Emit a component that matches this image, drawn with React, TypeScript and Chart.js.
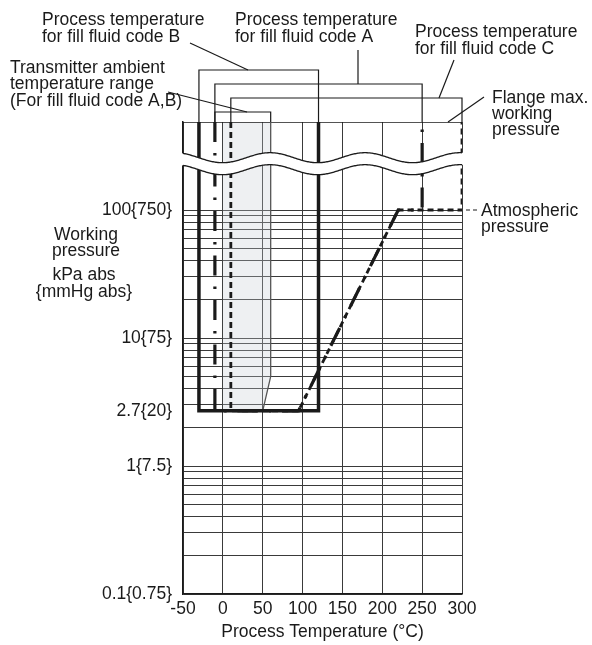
import React, { useEffect, useRef } from 'react';
import { Chart, registerables } from 'chart.js';

Chart.register(...registerables);

// ---- data ----
const FLANGE_MAX = 487; // nominal pressure used to place the "flange max." line above the axis break
const BREAK_VALUE = 230; // nominal pressure where the axis break is drawn

const X_MIN = -50;
const X_MAX = 300;
const X_STEP = 50;
const Y_MIN = 0.1;

const Y_LABEL_VALUES = [0.1, 1, 2.7, 10, 100];
const Y_LABELS = ['0.1{0.75}', '1{7.5}', '2.7{20}', '10{75}', '100{750}'];
const Y_GRID_VALUES = [
  0.1, 0.2, 0.3, 0.4, 0.5, 0.6, 0.7, 0.8, 0.9,
  1, 2, 3, 4, 5, 6, 7, 8, 9,
  10, 20, 30, 40, 50, 60, 70, 80, 90,
  100,
];

const MIN_PRESSURE = 2.7;
const ATMOSPHERIC = 100;

// Process temperature for fill fluid code B (solid)
const CODE_B_X = [-30, -30, 120, 120];
const CODE_B_Y = [FLANGE_MAX, MIN_PRESSURE, MIN_PRESSURE, FLANGE_MAX];
// Process temperature for fill fluid code A (dash-dot)
const CODE_A_X = [-10, -10, 95, 220, 250, 250];
const CODE_A_Y = [FLANGE_MAX, MIN_PRESSURE, MIN_PRESSURE, ATMOSPHERIC, ATMOSPHERIC, FLANGE_MAX];
// Process temperature for fill fluid code C (dashed)
const CODE_C_X = [10, 10, 95, 220, 300, 300];
const CODE_C_Y = [FLANGE_MAX, MIN_PRESSURE, MIN_PRESSURE, ATMOSPHERIC, ATMOSPHERIC, FLANGE_MAX];
// Transmitter ambient temperature range (shaded)
const AMBIENT_SHADE_X = [0, 60, 60, 50, 0];
const AMBIENT_SHADE_Y = [FLANGE_MAX, FLANGE_MAX, 5, MIN_PRESSURE, MIN_PRESSURE];
const AMBIENT_EDGE_X = [60, 60, 50];
const AMBIENT_EDGE_Y = [FLANGE_MAX, 5, MIN_PRESSURE];
// Flange max. working pressure
const FLANGE_X = [X_MIN, X_MAX];
const FLANGE_Y = [FLANGE_MAX, FLANGE_MAX];

// brackets above the plot (temperature ranges)
const BRACKET_B = [-30, 120];
const BRACKET_A = [-10, 250];
const BRACKET_C = [10, 300];
const BRACKET_AMBIENT = [-10, 60];

const FONT_FAMILY = '"Liberation Sans", Arial, Helvetica, sans-serif';
const FONT_SIZE = 17.5;
const INK = '#1a1a1a';
const GRID = '#3a3a3a';

const pts = (xs: number[], ys: number[]) => xs.map((x, i) => ({ x, y: ys[i] }));

const breakPlugin = {
  id: 'axisBreak',
  afterDatasetsDraw(chart: any) {
    const { ctx, chartArea, scales } = chart;
    const yc = scales.y.getPixelForValue(BREAK_VALUE);
    const amp = 5;
    const period = 95;
    const phase = chartArea.left - 8;
    const half = 6;
    const f = (x: number) => -amp * Math.cos((2 * Math.PI * (x - phase)) / period);
    const x0 = chartArea.left - 3;
    const x1 = chartArea.right + 3;
    ctx.save();
    ctx.beginPath();
    for (let x = x0; x <= x1; x += 1) {
      const y = yc - half + f(x);
      if (x === x0) ctx.moveTo(x, y);
      else ctx.lineTo(x, y);
    }
    for (let x = x1; x >= x0; x -= 1) ctx.lineTo(x, yc + half + f(x));
    ctx.closePath();
    ctx.fillStyle = '#ffffff';
    ctx.fill();
    ctx.strokeStyle = INK;
    ctx.lineWidth = 1.3;
    for (const off of [-half, half]) {
      ctx.beginPath();
      for (let x = chartArea.left; x <= chartArea.right; x += 1) {
        const y = yc + off + f(x);
        if (x === chartArea.left) ctx.moveTo(x, y);
        else ctx.lineTo(x, y);
      }
      ctx.stroke();
    }
    ctx.restore();
  },
};

const annotationPlugin = {
  id: 'callouts',
  afterDraw(chart: any) {
    const { ctx, chartArea, scales } = chart;
    const xs = scales.x;
    const ys = scales.y;
    const top = chartArea.top;
    ctx.save();
    ctx.strokeStyle = INK;
    ctx.lineWidth = 1.2;
    const bracket = (range: number[], rise: number) => {
      const a = xs.getPixelForValue(range[0]);
      const b = xs.getPixelForValue(range[1]);
      ctx.beginPath();
      ctx.moveTo(a, top);
      ctx.lineTo(a, top - rise);
      ctx.lineTo(b, top - rise);
      ctx.lineTo(b, top);
      ctx.stroke();
    };
    bracket(BRACKET_B, 52);
    bracket(BRACKET_A, 38);
    bracket(BRACKET_C, 24);
    bracket(BRACKET_AMBIENT, 10);

    const line = (x1: number, y1: number, x2: number, y2: number) => {
      ctx.beginPath();
      ctx.moveTo(x1, y1);
      ctx.lineTo(x2, y2);
      ctx.stroke();
    };
    // leaders
    line(190, 43, 248, top - 52);
    line(358, 50, 358, top - 38);
    line(454, 60, 439, top - 24);
    line(168, 92, 247, top - 10);
    line(484, 97, 448, top);
    const yAtm = ys.getPixelForValue(ATMOSPHERIC);
    ctx.setLineDash([4, 3]);
    ctx.lineWidth = 1;
    line(chartArea.right + 4, yAtm, chartArea.right + 16, yAtm);
    ctx.setLineDash([]);

    ctx.fillStyle = INK;
    ctx.font = `${FONT_SIZE}px ${FONT_FAMILY}`;
    ctx.textBaseline = 'alphabetic';
    ctx.textAlign = 'left';
    const text = (s: string, x: number, y: number) => ctx.fillText(s, x, y);
    text('Process temperature', 42, 25);
    text('for fill fluid code B', 42, 42);
    text('Process temperature', 235, 25);
    text('for fill fluid code A', 235, 42);
    text('Process temperature', 415, 37);
    text('for fill fluid code C', 415, 54);
    text('Transmitter ambient', 10, 73);
    text('temperature range', 10, 89);
    text('(For fill fluid code A,B)', 10, 106);
    text('Flange max.', 492, 103);
    text('working', 492, 119);
    text('pressure', 492, 135);
    text('Atmospheric', 481, 216);
    text('pressure', 481, 232);
    ctx.textAlign = 'center';
    text('Working', 86, 240);
    text('pressure', 86, 256);
    text('kPa abs', 84, 280);
    text('{mmHg abs}', 84, 297);
    ctx.restore();
  },
};

export default function App() {
  const canvasRef = useRef<HTMLCanvasElement | null>(null);

  useEffect(() => {
    const canvas = canvasRef.current;
    if (!canvas) return;
    const lineDs = (label: string, data: any[], extra: any) => ({
      label,
      data,
      showLine: true,
      pointRadius: 0,
      pointHoverRadius: 0,
      tension: 0,
      fill: false,
      borderColor: INK,
      borderCapStyle: 'butt',
      borderJoinStyle: 'miter',
      ...extra,
    });
    const chart = new Chart(canvas, {
      type: 'line',
      data: {
        datasets: [
          lineDs('Code B', pts(CODE_B_X, CODE_B_Y), { borderWidth: 3.5 }),
          lineDs('Code A', pts(CODE_A_X, CODE_A_Y), { borderWidth: 3.2, borderDash: [20, 11, 2.5, 11] }),
          lineDs('Code C', pts(CODE_C_X, CODE_C_Y), { borderWidth: 2.8, borderDash: [6, 4] }),
          lineDs('Ambient edge', pts(AMBIENT_EDGE_X, AMBIENT_EDGE_Y), { borderWidth: 1.3, borderColor: '#555' }),
          lineDs('Flange max', pts(FLANGE_X, FLANGE_Y), { borderWidth: 1.6 }),
          lineDs('Ambient range', pts(AMBIENT_SHADE_X, AMBIENT_SHADE_Y), {
            borderWidth: 0,
            borderColor: 'rgba(0,0,0,0)',
            backgroundColor: 'rgba(200,205,212,0.3)',
            fill: 'shape',
          }),
        ],
      },
      options: {
        animation: false,
        responsive: false,
        maintainAspectRatio: false,
        devicePixelRatio: 1,
        parsing: false,
        normalized: true,
        events: [],
        layout: { padding: { left: 0, right: 130, top: 122, bottom: 0 } },
        plugins: {
          legend: { display: false },
          tooltip: { enabled: false },
          title: { display: false },
        },
        scales: {
          x: {
            type: 'linear',
            min: X_MIN,
            max: X_MAX,
            afterFit: (scale: any) => {
              scale.height = 51;
            },
            ticks: {
              stepSize: X_STEP,
              padding: 5,
              color: INK,
              font: { family: FONT_FAMILY, size: FONT_SIZE },
              callback: (v: any) => String(v),
            },
            grid: { color: GRID, lineWidth: 1, drawTicks: false },
            border: { display: true, color: INK, width: 1.5 },
            title: {
              display: true,
              text: 'Process Temperature (°C)',
              color: INK,
              font: { family: FONT_FAMILY, size: FONT_SIZE },
              padding: { top: 0, bottom: 2.5 },
            },
          },
          y: {
            type: 'logarithmic',
            min: Y_MIN,
            max: FLANGE_MAX,
            bounds: 'data',
            afterFit: (scale: any) => {
              scale.width = 183;
            },
            afterBuildTicks: (scale: any) => {
              const vals = [...Y_GRID_VALUES, MIN_PRESSURE].sort((a, b) => a - b);
              scale.ticks = vals.map((v) => ({ value: v }));
            },
            ticks: {
              autoSkip: false,
              padding: 11,
              color: INK,
              font: { family: FONT_FAMILY, size: FONT_SIZE },
              callback: (value: any) => {
                const i = Y_LABEL_VALUES.findIndex((v) => Math.abs(v - Number(value)) < 1e-9);
                return i >= 0 ? Y_LABELS[i] : '';
              },
            },
            grid: {
              drawTicks: false,
              lineWidth: 1,
              color: (c: any) =>
                c.tick && Math.abs(c.tick.value - MIN_PRESSURE) < 1e-9 ? 'rgba(0,0,0,0)' : GRID,
            },
            border: { display: true, color: INK, width: 1.5 },
          },
        },
      },
      plugins: [breakPlugin, annotationPlugin],
    } as any);
    return () => chart.destroy();
  }, []);

  return (
    <div style={{ position: 'fixed', left: 0, top: 0, width: 592, height: 645, background: '#fff' }}>
      <canvas ref={canvasRef} width={592} height={645} style={{ display: 'block' }} />
    </div>
  );
}
